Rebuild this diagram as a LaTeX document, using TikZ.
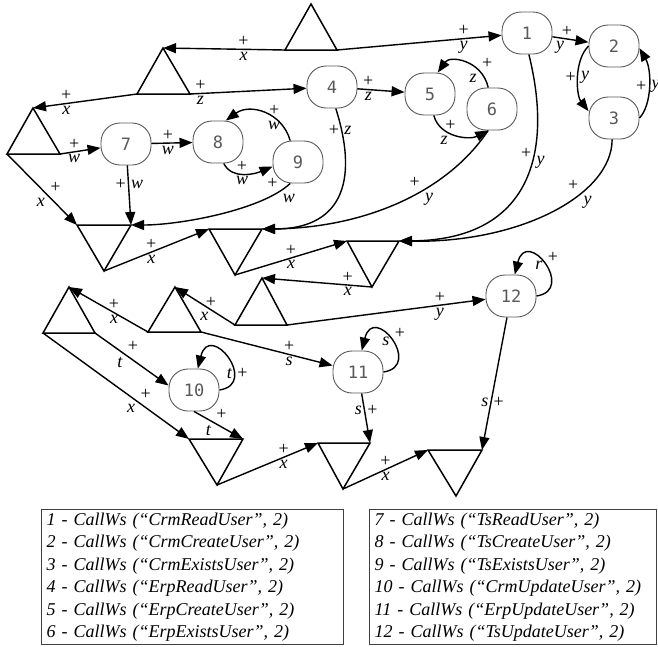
\documentclass[tikz,border=0pt]{standalone}
\usepackage{fontspec}
\setmainfont{Liberation Serif}
\newfontfamily\numfont{DejaVu Sans Mono}
\usetikzlibrary{arrows.meta}

\begin{document}
\begin{tikzpicture}[x=1pt,y=-1pt,
  callnode/.style={draw=black!65, line width=0.9pt, rectangle, rounded corners=19pt,
    minimum width=50pt, minimum height=42pt, inner sep=0pt,
    font=\numfont\fontsize{17}{17}\selectfont, text=black!65},
  tri/.style={line width=1.5pt, line join=miter},
  arr/.style={line width=1.4pt, -{Triangle[length=13pt,width=10pt]}},
  lab/.style={inner sep=2pt, font=\fontsize{18}{18}\selectfont},
  lv/.style={inner sep=2pt, font=\itshape\fontsize{18}{18}\selectfont},
  legend/.style={draw=black!75, line width=1.2pt, anchor=north west, align=left,
    inner xsep=5pt, inner ysep=0pt, font=\itshape\fontsize{18}{22.4}\selectfont}
]
\useasboundingbox (0,0) rectangle (658,646);

% ---- call nodes ----
\node[callnode] (n1) at (527,33) {1};
\node[callnode] (n2) at (614,46) {2};
\node[callnode] (n3) at (614,118) {3};
\node[callnode] (n4) at (332,87) {4};
\node[callnode] (n5) at (430,94) {5};
\node[callnode] (n6) at (492,109) {6};
\node[callnode] (n7) at (126,144) {7};
\node[callnode] (n8) at (218,142) {8};
\node[callnode] (n9) at (298,162) {9};
\node[callnode] (n10) at (194,390) {10};
\node[callnode] (n11) at (358,372) {11};
\node[callnode] (n12) at (511,296) {12};

% ---- triangle corners (a = apex, l/r = base ends) ----
\coordinate (t0a) at (311,4);   \coordinate (t0l) at (285,50);  \coordinate (t0r) at (337,50);
\coordinate (t1a) at (163,48);  \coordinate (t1l) at (137,94);  \coordinate (t1r) at (190,94);
\coordinate (t2a) at (33,108);  \coordinate (t2l) at (7,154);   \coordinate (t2r) at (60,154);
\coordinate (t3l) at (77,225);  \coordinate (t3r) at (131,225); \coordinate (t3a) at (104,271);
\coordinate (t4l) at (209,229); \coordinate (t4r) at (262,229); \coordinate (t4a) at (235,275);
\coordinate (t5l) at (347,241); \coordinate (t5r) at (399,241); \coordinate (t5a) at (372,287);
\coordinate (t6a) at (262,278); \coordinate (t6l) at (235,325); \coordinate (t6r) at (287,325);
\coordinate (t7a) at (175,287); \coordinate (t7l) at (148,332); \coordinate (t7r) at (201,332);
\coordinate (t8a) at (69,287);  \coordinate (t8l) at (43,333);  \coordinate (t8r) at (95,333);
\coordinate (t9l) at (189,439); \coordinate (t9r) at (243,439); \coordinate (t9a) at (217,485);
\coordinate (t10l) at (318,443); \coordinate (t10r) at (370,443); \coordinate (t10a) at (343,489);
\coordinate (t11l) at (428,450); \coordinate (t11r) at (482,450); \coordinate (t11a) at (456,496);

\foreach \t in {t0,t1,t2,t3,t4,t5,t6,t7,t8,t9,t10,t11}
  \draw[tri] (\t a) -- (\t l) -- (\t r) -- cycle;

% ---- straight connectors ----
\draw[arr] (t0l) -- node[lab,pos=.34,above]{+} node[lv,pos=.34,below]{x} (t1a);
\draw[arr] (t0r) -- node[lab,pos=.77,above]{+} node[lv,pos=.77,below]{y} (n1);
\draw[arr] (t1l) -- node[lab,pos=.68,above]{+} node[lv,pos=.68,below]{x} (t2a);
\draw[arr] (t1r) -- node[lab,pos=.09,above]{+} node[lv,pos=.09,below]{z} (n4);
\draw[arr] (t2r) -- node[lab,pos=.35,above]{+} node[lv,pos=.35,below]{w} (n7);
\draw[arr] (t2l) -- node[lab,pos=.58,above right]{+} node[lv,pos=.58,below left]{x} (t3l);
\draw[arr] (n7) -- node[lab,pos=.4,above]{+} node[lv,pos=.4,below]{w} (n8);
\draw[arr] (n7) -- node[lab,pos=.32,left]{+} node[lv,pos=.32,right]{w} (t3r);
\draw[arr] (t3a) -- node[lab,pos=.45,above]{+} node[lv,pos=.45,below]{x} (t4l);
\draw[arr] (t4a) -- node[lab,pos=.5,above]{+} node[lv,pos=.5,below]{x} (t5l);
\draw[arr] (t5a) -- node[lab,pos=.22,above]{+} node[lv,pos=.22,below]{x} (t6a);
\draw[arr] (t6r) -- node[lab,pos=.77,above]{+} node[lv,pos=.77,below]{y} (n12);
\draw[arr] (t6l) -- node[lab,pos=.4,above]{+} node[lv,pos=.4,below left]{x} (t7a);
\draw[arr] (t7l) -- node[lab,pos=.43,above]{+} node[lv,pos=.43,below]{x} (t8a);
\draw[arr] (t7r) -- node[lab,pos=.67,above]{+} node[lv,pos=.67,below]{s} (n11);
\draw[arr] (t8r) -- node[lab,pos=.41,above right]{+} node[lv,pos=.41,below left]{t} (n10.170);
\draw[arr] (t8l) -- node[lab,pos=.65,above right]{+} node[lv,pos=.65,below left]{x} (t9l);
\draw[arr] (n10.south) -- node[lab,pos=.4,above right]{+} node[lv,pos=.4,below left]{t} (t9r);
\draw[arr] (t9a) -- node[lab,pos=.66,above]{+} node[lv,pos=.66,below]{x} (t10l);
\draw[arr] (n11) -- node[lv,pos=.35,left]{s} node[lab,pos=.35,right]{+} (t10r);
\draw[arr] (t10a) -- node[lab,pos=.5,above]{+} node[lv,pos=.5,below]{x} (t11l);
\draw[arr] (n12) -- node[lv,pos=.64,left]{s} node[lab,pos=.64,right]{+} (t11r);
\draw[arr] (n4) -- node[lab,pos=.23,above]{+} node[lv,pos=.23,below]{z} (n5);
\draw[arr] (n1) -- node[lab,pos=.4,above]{+} node[lv,pos=.4,below left]{y} (n2);

% ---- curved connectors ----
\draw[arr] (n8.-75) .. controls (232,180) and (255,174) .. (n9.190)
  node[lab,pos=.45,above]{+} node[lv,pos=.45,below]{w};
\draw[arr] (n9.110) .. controls (282,112) and (250,103) .. (n8.70)
  node[lab,pos=.35,above]{+} node[lv,pos=.35,below]{w};
\draw[arr] (n9.-110) .. controls (262,210) and (180,225) .. (t3r)
  node[lab,pos=.1,above left]{+} node[lv,pos=.1,below right]{w};
\draw[arr] (n4.-80) .. controls (360,185) and (339,229) .. (t4r)
  node[lab,pos=.1,left]{+} node[lv,pos=.1,right]{z};
\draw[arr] (n6.-100) .. controls (445,195) and (360,228) .. (t4r)
  node[lab,pos=.38,above left]{+} node[lv,pos=.38,below right]{y};
\draw[arr] (n1.-85) .. controls (555,160) and (525,240) .. (t5r)
  node[lab,pos=.35,left]{+} node[lv,pos=.35,below right]{y};
\draw[arr] (n3.-95) .. controls (612,195) and (520,243) .. (t5r)
  node[lab,pos=.35,above left]{+} node[lv,pos=.35,below right]{y};
\draw[arr] (n5.-80) .. controls (440,138) and (470,140) .. (n6.-100)
  node[lab,pos=.4,above]{+} node[lv,pos=.4,below left]{z};
\draw[arr] (n6.100) .. controls (482,60) and (450,55) .. (n5.70)
  node[lab,pos=.25,above right]{+} node[lv,pos=.25,below left]{z};
\draw[arr] (n2.west) .. controls (574,60) and (576,95) .. (n3.165)
  node[lab,pos=.5,left]{+} node[lv,pos=.5,right]{y};
\draw[arr] (n3.east) .. controls (652,105) and (652,70) .. (n2.-5)
  node[lab,pos=.5,left]{+} node[lv,pos=.5,right]{y};

% ---- self loops ----
\draw[arr] (n10.east) .. controls +(40,-6) and +(12,-48) .. (n10.80)
  node[lv,pos=.3,left]{t} node[lab,pos=.3,right]{+};
\draw[arr] (n11.east) .. controls +(40,-6) and +(12,-48) .. (n11.80)
  node[lv,pos=.5,left]{s} node[lab,pos=.5,above right]{+};
\draw[arr] (n12.east) .. controls +(40,-6) and +(12,-48) .. (n12.80)
  node[lv,pos=.5,left]{r} node[lab,pos=.5,above right]{+};

% ---- legend ----
\node[legend, text width=292pt, minimum height=135pt] (legA) at (41,509)
  {1 - CallWs (“CrmReadUser”, 2)\\
   2 - CallWs (“CrmCreateUser”, 2)\\
   3 - CallWs (“CrmExistsUser”, 2)\\
   4 - CallWs (“ErpReadUser”, 2)\\
   5 - CallWs (“ErpCreateUser”, 2)\\
   6 - CallWs (“ErpExistsUser”, 2)};
\node[legend, text width=277pt, minimum height=135pt] (legB) at (369,509)
  {7 - CallWs (“TsReadUser”, 2)\\
   8 - CallWs (“TsCreateUser”, 2)\\
   9 - CallWs (“TsExistsUser”, 2)\\
   10 - CallWs (“CrmUpdateUser”, 2)\\
   11 - CallWs (“ErpUpdateUser”, 2)\\
   12 - CallWs (“TsUpdateUser”, 2)};
\end{tikzpicture}
\end{document}
